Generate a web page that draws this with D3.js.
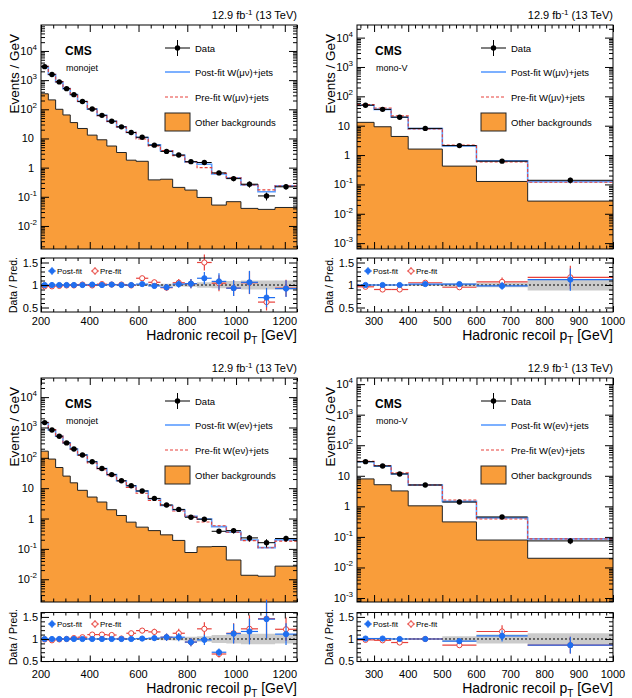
<!DOCTYPE html>
<html>
<head>
<meta charset="utf-8">
<script src="https://cdn.jsdelivr.net/npm/d3@7"></script>
<style>
  body { margin: 0; background: #fff; }
  svg { display: block; font-family: "Liberation Sans", Arial, Helvetica, sans-serif; }
</style>
</head>
<body>
<svg id="figure" width="632" height="698"></svg>
<script>
// bin edges (GeV)
const monojetEdges = [200, 230, 260, 290, 320, 350, 390, 430, 470, 510, 550, 590, 640, 690, 740, 790, 840, 900, 960, 1020, 1090, 1160, 1250];
const monovEdges = [250, 300, 350, 400, 500, 600, 750, 1000];

const monojetTicks = [200, 400, 600, 800, 1000, 1200];
const monovTicks = [300, 400, 500, 600, 700, 800, 900, 1000];

// W(mu nu), monojet
const wmnMonojetData = [2900, 1550, 870, 510, 318, 186, 102, 62, 39, 25, 16, 11, 5.9, 3.6, 2.7, 1.6, 1.5, 0.66, 0.42, 0.27, 0.107, 0.22];
const wmnMonojetPostRatio = [1.0, 1.0, 1.0, 1.0, 1.0, 1.0, 1.01, 1.0, 1.01, 1.0, 1.0, 1.02, 0.98, 0.95, 1.02, 1.03, 1.15, 1.08, 0.93, 1.06, 0.72, 0.92];
const wmnMonojetPreRatio = [0.97, 0.97, 0.98, 0.99, 0.99, 1.01, 0.99, 1.02, 1.01, 1.01, 0.99, 1.15, 1.06, 0.94, 1.05, 1.03, 1.5, 1.04, 0.93, 1.05, 0.62, 0.93];
const wmnMonojetErr = [0.005, 0.005, 0.006, 0.008, 0.01, 0.012, 0.015, 0.02, 0.025, 0.03, 0.035, 0.045, 0.055, 0.07, 0.08, 0.1, 0.12, 0.17, 0.19, 0.24, 0.3, 0.2];
const wmnMonojetOther = [340, 210, 100, 64, 35, 22, 13, 9, 5.5, 3.3, 1.8, 1.65, 0.38, 0.4, 0.21, 0.17, 0.095, 0.052, 0.068, 0.04, 0.037, 0.043];
const wmnMonojetBand = [0.01, 0.01, 0.01, 0.01, 0.01, 0.01, 0.01, 0.012, 0.014, 0.016, 0.018, 0.02, 0.025, 0.03, 0.035, 0.04, 0.06, 0.07, 0.09, 0.1, 0.1, 0.1];

// W(mu nu), mono-V
const wmnMonovData = [50, 36, 19.5, 8.1, 2.1, 0.62, 0.138];
const wmnMonovPostRatio = [1.0, 1.0, 1.0, 1.02, 1.02, 0.98, 1.12];
const wmnMonovPreRatio = [0.96, 0.9, 0.9, 1.05, 0.95, 1.07, 1.17];
const wmnMonovErr = [0.02, 0.02, 0.02, 0.02, 0.04, 0.09, 0.22];
const wmnMonovOther = [13, 9.2, 4.3, 1.6, 0.42, 0.126, 0.027];
const wmnMonovBand = [0.01, 0.01, 0.01, 0.02, 0.04, 0.05, 0.12];

// W(e nu), monojet
const wenMonojetData = [1450, 830, 515, 310, 196, 124, 74, 44.5, 28, 17.5, 12, 8.1, 4.6, 2.8, 2.0, 1.1, 0.95, 0.38, 0.4, 0.23, 0.16, 0.22];
const wenMonojetPostRatio = [1.0, 1.0, 1.0, 1.0, 1.0, 1.0, 1.0, 1.0, 1.0, 1.0, 1.0, 1.01, 1.02, 1.04, 1.04, 0.93, 0.98, 0.7, 1.12, 1.17, 1.45, 1.11];
const wenMonojetPreRatio = [0.99, 0.97, 0.99, 1.0, 1.02, 1.04, 1.1, 1.1, 1.09, 1.01, 1.13, 1.19, 1.16, 1.04, 1.13, 0.93, 1.23, 0.66, 1.13, 1.23, 1.46, 1.22];
const wenMonojetErr = [0.005, 0.006, 0.008, 0.01, 0.012, 0.015, 0.02, 0.025, 0.03, 0.035, 0.04, 0.05, 0.06, 0.08, 0.09, 0.1, 0.12, 0.12, 0.2, 0.25, 0.3, 0.22];
const wenMonojetOther = [166, 91, 48, 25, 15, 8.5, 5.1, 3.5, 1.95, 1.26, 0.76, 0.52, 0.4, 0.29, 0.19, 0.076, 0.117, 0.12, 0.043, 0.0135, 0.0126, 0.027];
const wenMonojetBand = [0.01, 0.01, 0.01, 0.01, 0.01, 0.01, 0.01, 0.012, 0.014, 0.016, 0.018, 0.02, 0.025, 0.03, 0.035, 0.05, 0.06, 0.09, 0.1, 0.12, 0.12, 0.1];

// W(e nu), mono-V
const wenMonovData = [29, 21, 11.5, 5.0, 1.38, 0.45, 0.074];
const wenMonovPostRatio = [1.01, 1.01, 1.0, 1.0, 0.95, 1.07, 0.86];
const wenMonovPreRatio = [0.98, 0.97, 0.92, 1.0, 0.86, 1.17, 0.86];
const wenMonovErr = [0.02, 0.03, 0.03, 0.03, 0.06, 0.12, 0.22];
const wenMonovOther = [7.9, 5.1, 3.2, 1.04, 0.31, 0.079, 0.02];
const wenMonovBand = [0.01, 0.01, 0.01, 0.02, 0.06, 0.1, 0.13];

const vis = {

    svg : d3.select('#figure'),

    colors : {
        orange : '#f99d3a',
        postLine : '#5c9dff',
        post : '#1f6ef0',
        pre : '#e8403a',
        band : '#cbcbcb'
    },

    frame : { left : 41, right : 297, top : 25, bottom : 249 },

    panels : [
        { ox : 0, oy : 0, edges : monojetEdges, ticks : monojetTicks, minorStep : 50, region : 'monojet', lep : 'μν',
          data : wmnMonojetData, post : wmnMonojetPostRatio, pre : wmnMonojetPreRatio, err : wmnMonojetErr, other : wmnMonojetOther, band : wmnMonojetBand,
          logRange : [-2.79, 4.89], ratioBox : [258, 312], ratioRange : [0.4, 1.6], cmsX : 65 },
        { ox : 316, oy : 0, edges : monovEdges, ticks : monovTicks, minorStep : 20, region : 'mono-V', lep : 'μν',
          data : wmnMonovData, post : wmnMonovPostRatio, pre : wmnMonovPreRatio, err : wmnMonovErr, other : wmnMonovOther, band : wmnMonovBand,
          logRange : [-3.2, 4.43], ratioBox : [258, 312], ratioRange : [0.4, 1.6], cmsX : 59 },
        { ox : 0, oy : 353, edges : monojetEdges, ticks : monojetTicks, minorStep : 50, region : 'monojet', lep : 'eν',
          data : wenMonojetData, post : wenMonojetPostRatio, pre : wenMonojetPreRatio, err : wenMonojetErr, other : wenMonojetOther, band : wenMonojetBand,
          logRange : [-2.75, 4.63], ratioBox : [259.5, 308.5], ratioRange : [0.49, 1.6], cmsX : 65 },
        { ox : 316, oy : 353, edges : monovEdges, ticks : monovTicks, minorStep : 20, region : 'mono-V', lep : 'eν',
          data : wenMonovData, post : wenMonovPostRatio, pre : wenMonovPreRatio, err : wenMonovErr, other : wenMonovOther, band : wenMonovBand,
          logRange : [-3.13, 4.2], ratioBox : [259.5, 308.5], ratioRange : [0.49, 1.6], cmsX : 59 }
    ],

    // histogram points for a step curve: one point per edge, last one repeats the last value
    steps : function(edges, vals) {
        return edges.map((e, i) => [e, vals[Math.min(i, vals.length - 1)]]);
    },

    minor_ticks : function(x, step, majors) {
        const [a, b] = x.domain();
        const out = [];
        for (let v = Math.ceil(a / step) * step; v <= b + 1e-9; v += step) {
            if (!majors.includes(v)) out.push(v);
        }
        return out;
    },

    ticks_on : function(g, axis, tx, ty) {
        g.append('g')
         .attr('transform', `translate(${tx},${ty})`)
         .call(axis)
         .call(s => s.select('.domain').remove())
         .call(s => s.selectAll('text').remove())
         .selectAll('line').attr('stroke', '#000');
    },

    exp_label : function(sel, e) {
        if (e === 0) { sel.text('1'); return; }
        if (e === 1) { sel.text('10'); return; }
        sel.append('tspan').text('10');
        sel.append('tspan').attr('dy', -5).attr('font-size', 8).text(e);
    },

    main : {

        draw : function(g, p, id) {

            const f = vis.frame;
            const x = d3.scaleLinear().domain(d3.extent(p.edges)).range([f.left, f.right]);
            const y = d3.scaleLog().domain([Math.pow(10, p.logRange[0]), Math.pow(10, p.logRange[1])]).range([f.bottom, f.top]);

            const postTotal = p.data.map((d, i) => d / p.post[i]);
            const preTotal = p.data.map((d, i) => d / p.pre[i]);

            g.append('clipPath').attr('id', 'clip' + id)
             .append('rect').attr('x', f.left).attr('y', f.top).attr('width', f.right - f.left).attr('height', f.bottom - f.top);

            const plot = g.append('g').attr('clip-path', `url(#clip${id})`);

            const area = d3.area().curve(d3.curveStepAfter)
                .x(d => x(d[0])).y0(f.bottom).y1(d => y(d[1]));
            const line = d3.line().curve(d3.curveStepAfter)
                .x(d => x(d[0])).y(d => y(d[1]));

            plot.append('path').attr('d', area(vis.steps(p.edges, p.other)))
                .attr('fill', vis.colors.orange);
            plot.append('path').attr('d', line(vis.steps(p.edges, p.other)))
                .attr('fill', 'none').attr('stroke', '#222').attr('stroke-width', 1);

            plot.append('path').attr('d', line(vis.steps(p.edges, postTotal)))
                .attr('fill', 'none').attr('stroke', vis.colors.postLine).attr('stroke-width', 1.6);
            plot.append('path').attr('d', line(vis.steps(p.edges, preTotal)))
                .attr('fill', 'none').attr('stroke', vis.colors.pre).attr('stroke-width', 1.1)
                .attr('stroke-dasharray', '3,2');

            // data points
            const pts = plot.append('g').selectAll('g').data(p.data).join('g');
            pts.append('line')
               .attr('x1', (d, i) => x(p.edges[i])).attr('x2', (d, i) => x(p.edges[i + 1]))
               .attr('y1', d => y(d)).attr('y2', d => y(d))
               .attr('stroke', '#000').attr('stroke-width', 1);
            pts.append('line')
               .attr('x1', (d, i) => x((p.edges[i] + p.edges[i + 1]) / 2)).attr('x2', (d, i) => x((p.edges[i] + p.edges[i + 1]) / 2))
               .attr('y1', (d, i) => y(d * (1 + p.err[i]))).attr('y2', (d, i) => y(d * (1 - p.err[i])))
               .attr('stroke', '#000').attr('stroke-width', 1);
            pts.append('circle')
               .attr('cx', (d, i) => x((p.edges[i] + p.edges[i + 1]) / 2)).attr('cy', d => y(d))
               .attr('r', 2.7).attr('fill', '#000');

            // ticks
            const decades = d3.range(Math.ceil(p.logRange[0]), Math.floor(p.logRange[1]) + 1);
            const logMinors = [];
            d3.range(Math.floor(p.logRange[0]), Math.ceil(p.logRange[1]) + 1).forEach(e => {
                for (let k = 2; k <= 9; k++) {
                    const v = k * Math.pow(10, e);
                    if (v > y.domain()[0] && v < y.domain()[1]) logMinors.push(v);
                }
            });

            vis.ticks_on(g, d3.axisLeft(y).tickValues(decades.map(e => Math.pow(10, e))).tickSize(-8), f.left, 0);
            vis.ticks_on(g, d3.axisLeft(y).tickValues(logMinors).tickSize(-4), f.left, 0);
            vis.ticks_on(g, d3.axisRight(y).tickValues(decades.map(e => Math.pow(10, e))).tickSize(-8), f.right, 0);
            vis.ticks_on(g, d3.axisRight(y).tickValues(logMinors).tickSize(-4), f.right, 0);

            const xMinors = vis.minor_ticks(x, p.minorStep, p.ticks);
            vis.ticks_on(g, d3.axisBottom(x).tickValues(p.ticks).tickSize(-7), 0, f.bottom);
            vis.ticks_on(g, d3.axisBottom(x).tickValues(xMinors).tickSize(-3.5), 0, f.bottom);
            vis.ticks_on(g, d3.axisTop(x).tickValues(p.ticks).tickSize(-7), 0, f.top);
            vis.ticks_on(g, d3.axisTop(x).tickValues(xMinors).tickSize(-3.5), 0, f.top);

            g.append('rect').attr('x', f.left).attr('y', f.top)
             .attr('width', f.right - f.left).attr('height', f.bottom - f.top)
             .attr('fill', 'none').attr('stroke', '#000').attr('stroke-width', 1);

            // y tick labels
            g.append('g').selectAll('text').data(decades).join('text')
             .attr('x', e => (e === 0 || e === 1) ? 34 : 32)
             .attr('y', e => y(Math.pow(10, e)) + 4)
             .attr('text-anchor', e => (e === 0 || e === 1) ? 'end' : 'end')
             .attr('font-size', 11)
             .each(function(e) { vis.exp_label(d3.select(this), e); });
            // shift exponent labels so the exponent sits after the base
            g.selectAll('text').filter(function() { return this.childNodes.length > 1; })
             .attr('x', 37);

            g.append('text').attr('transform', `translate(19,34) rotate(-90)`)
             .attr('text-anchor', 'end').attr('font-size', 13.5).text('Events / GeV');

            // header
            const lumi = g.append('text').attr('x', f.right).attr('y', 19)
                .attr('text-anchor', 'end').attr('font-size', 11);
            lumi.append('tspan').text('12.9 fb');
            lumi.append('tspan').attr('dy', -4).attr('font-size', 8).text('-1');
            lumi.append('tspan').attr('dy', 4).text(' (13 TeV)');

            g.append('text').attr('x', p.cmsX).attr('y', 55).attr('font-size', 12)
             .attr('font-weight', 'bold').text('CMS');
            g.append('text').attr('x', p.cmsX + 1).attr('y', 71).attr('font-size', 9)
             .text(p.region);

            // legend
            const lg = g.append('g');
            const lx = 165, rows = [48, 72, 97, 122];
            lg.append('line').attr('x1', lx).attr('x2', lx + 25).attr('y1', rows[0]).attr('y2', rows[0]).attr('stroke', '#000');
            lg.append('line').attr('x1', lx + 12.5).attr('x2', lx + 12.5).attr('y1', rows[0] - 8).attr('y2', rows[0] + 8).attr('stroke', '#000');
            lg.append('circle').attr('cx', lx + 12.5).attr('cy', rows[0]).attr('r', 2.7).attr('fill', '#000');
            lg.append('line').attr('x1', lx).attr('x2', lx + 25).attr('y1', rows[1]).attr('y2', rows[1])
              .attr('stroke', vis.colors.postLine).attr('stroke-width', 1.6);
            lg.append('line').attr('x1', lx).attr('x2', lx + 25).attr('y1', rows[2]).attr('y2', rows[2])
              .attr('stroke', vis.colors.pre).attr('stroke-width', 1.1).attr('stroke-dasharray', '3,2');
            lg.append('rect').attr('x', lx).attr('y', rows[3] - 9).attr('width', 25).attr('height', 18)
              .attr('fill', vis.colors.orange).attr('stroke', '#222').attr('stroke-width', 1);

            const labels = ['Data', `Post-fit W(${p.lep})+jets`, `Pre-fit W(${p.lep})+jets`, 'Other backgrounds'];
            lg.selectAll('text.leg').data(labels).join('text').attr('class', 'leg')
              .attr('x', lx + 30).attr('y', (d, i) => rows[i] + 3.5)
              .attr('font-size', 9.5).text(d => d);
        }
    },

    ratio : {

        draw : function(g, p) {

            const f = vis.frame;
            const [top, bottom] = p.ratioBox;
            const x = d3.scaleLinear().domain(d3.extent(p.edges)).range([f.left, f.right]);
            const y = d3.scaleLinear().domain(p.ratioRange).range([bottom, top]);
            const mid = i => (p.edges[i] + p.edges[i + 1]) / 2;

            // uncertainty band
            const band = d3.area().curve(d3.curveStepAfter)
                .x(d => x(d[0])).y0(d => y(1 - d[1])).y1(d => y(1 + d[1]));
            g.append('path').attr('d', band(vis.steps(p.edges, p.band))).attr('fill', vis.colors.band);

            g.append('line').attr('x1', f.left).attr('x2', f.right).attr('y1', y(1)).attr('y2', y(1))
             .attr('stroke', '#000').attr('stroke-width', 1).attr('stroke-dasharray', '2,2');

            const series = [
                { vals : p.pre, color : vis.colors.pre, open : true },
                { vals : p.post, color : vis.colors.post, open : false }
            ];
            series.forEach(s => {
                const pts = g.append('g').selectAll('g').data(s.vals).join('g');
                pts.append('line')
                   .attr('x1', (d, i) => x(p.edges[i])).attr('x2', (d, i) => x(p.edges[i + 1]))
                   .attr('y1', d => y(d)).attr('y2', d => y(d))
                   .attr('stroke', s.color).attr('stroke-width', 1.2);
                pts.append('line')
                   .attr('x1', (d, i) => x(mid(i))).attr('x2', (d, i) => x(mid(i)))
                   .attr('y1', (d, i) => y(d * (1 + p.err[i]))).attr('y2', (d, i) => y(d * (1 - p.err[i])))
                   .attr('stroke', s.color).attr('stroke-width', 1.2);
                pts.append('circle')
                   .attr('cx', (d, i) => x(mid(i))).attr('cy', d => y(d))
                   .attr('r', 2.6)
                   .attr('fill', s.open ? '#fff' : s.color)
                   .attr('stroke', s.color).attr('stroke-width', 1);
            });

            // axes
            const yMaj = [0.5, 1, 1.5];
            const yMin = d3.range(5, 17).map(v => v / 10).filter(v => !yMaj.includes(v) && v > p.ratioRange[0]);
            vis.ticks_on(g, d3.axisLeft(y).tickValues(yMaj).tickSize(-8), f.left, 0);
            vis.ticks_on(g, d3.axisLeft(y).tickValues(yMin).tickSize(-4), f.left, 0);
            vis.ticks_on(g, d3.axisRight(y).tickValues(yMaj).tickSize(-8), f.right, 0);
            vis.ticks_on(g, d3.axisRight(y).tickValues(yMin).tickSize(-4), f.right, 0);

            const xMinors = vis.minor_ticks(x, p.minorStep, p.ticks);
            vis.ticks_on(g, d3.axisBottom(x).tickValues(p.ticks).tickSize(-6), 0, bottom);
            vis.ticks_on(g, d3.axisBottom(x).tickValues(xMinors).tickSize(-3), 0, bottom);
            vis.ticks_on(g, d3.axisTop(x).tickValues(p.ticks).tickSize(-6), 0, top);
            vis.ticks_on(g, d3.axisTop(x).tickValues(xMinors).tickSize(-3), 0, top);

            g.append('rect').attr('x', f.left).attr('y', top)
             .attr('width', f.right - f.left).attr('height', bottom - top)
             .attr('fill', 'none').attr('stroke', '#000').attr('stroke-width', 1);

            g.append('g').selectAll('text').data(yMaj).join('text')
             .attr('x', 38).attr('y', d => y(d) + 4).attr('text-anchor', 'end')
             .attr('font-size', 11).text(d => String(d));

            g.append('g').selectAll('text').data(p.ticks).join('text')
             .attr('x', d => x(d)).attr('y', 325).attr('text-anchor', 'middle')
             .attr('font-size', 11).text(d => d);

            const xt = g.append('text').attr('x', f.right).attr('y', 340)
                .attr('text-anchor', 'end').attr('font-size', 14);
            xt.append('tspan').text('Hadronic recoil p');
            xt.append('tspan').attr('dy', 4).attr('font-size', 10).text('T');
            xt.append('tspan').attr('dy', -4).text(' [GeV]');

            g.append('text').attr('transform', `translate(17,${(top + bottom) / 2}) rotate(-90)`)
             .attr('text-anchor', 'middle').attr('font-size', 10.5).text('Data / Pred.');

            // small legend
            const ly = 271;
            [{ x : 52, c : vis.colors.post, open : false, t : 'Post-fit' },
             { x : 95, c : vis.colors.pre, open : true, t : 'Pre-fit' }].forEach(l => {
                g.append('line').attr('x1', l.x - 4).attr('x2', l.x + 4).attr('y1', ly).attr('y2', ly).attr('stroke', l.c);
                g.append('line').attr('x1', l.x).attr('x2', l.x).attr('y1', ly - 4).attr('y2', ly + 4).attr('stroke', l.c);
                g.append('circle').attr('cx', l.x).attr('cy', ly).attr('r', 2.4)
                 .attr('fill', l.open ? '#fff' : l.c).attr('stroke', l.c);
                g.append('text').attr('x', l.x + 5).attr('y', ly + 3).attr('font-size', 8).text(l.t);
            });
        }
    },

    ctrl : {

        init : function() {
            vis.panels.forEach((p, i) => {
                const g = vis.svg.append('g').attr('transform', `translate(${p.ox},${p.oy})`);
                vis.main.draw(g.append('g'), p, i);
                vis.ratio.draw(g.append('g'), p);
            });
        }
    }
};

vis.ctrl.init();
</script>
</body>
</html>
